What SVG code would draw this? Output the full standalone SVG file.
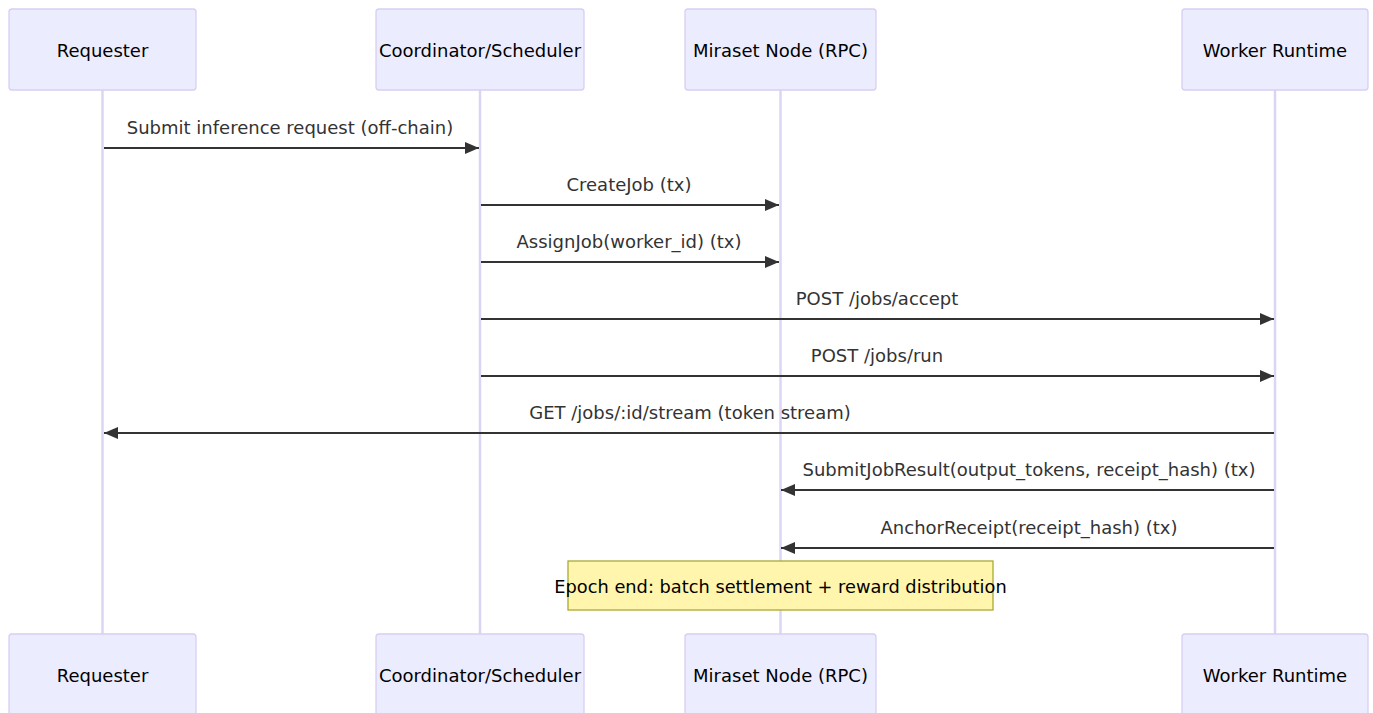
<svg xmlns="http://www.w3.org/2000/svg" width="1373" height="713" viewBox="0 0 1373 713">
<style>
.actor rect{fill:#ECECFF;stroke:#D7CEF3;stroke-width:1.3}
.actor text{font-family:"DejaVu Sans",Verdana,sans-serif;font-size:18px;fill:#000;text-anchor:middle;dominant-baseline:central}
.life{stroke:#DCD4F5;stroke-width:2.5}
.msg line{stroke:#333;stroke-width:2}
.msg text{font-family:"DejaVu Sans",Verdana,sans-serif;font-size:18px;fill:#333;text-anchor:middle}
.note rect{fill:#FFF5AD;stroke:#AAAA33;stroke-width:1.3}
.note text{font-family:"DejaVu Sans",Verdana,sans-serif;font-size:17.8px;fill:#000;text-anchor:middle;dominant-baseline:central}
</style>
<defs>
<marker id="ah" markerUnits="userSpaceOnUse" markerWidth="15" markerHeight="13" refX="14" refY="6" orient="auto">
<path d="M0,0 L14,6 L0,12 z" fill="#333"/>
</marker>
</defs>
<rect width="1373" height="713" fill="#fff"/>
<g id="lifelines">
<line class="life" x1="102.5" y1="90" x2="102.5" y2="634"/>
<line class="life" x1="480" y1="90" x2="480" y2="634"/>
<line class="life" x1="780.5" y1="90" x2="780.5" y2="634"/>
<line class="life" x1="1275" y1="90" x2="1275" y2="634"/>
</g>
<g id="requester" class="actor">
<rect x="9" y="9" width="187" height="81" rx="3"/>
<text x="102.5" y="50.5">Requester</text>
<rect x="9" y="634" width="187" height="81" rx="3"/>
<text x="102.5" y="675.5">Requester</text>
</g>
<g id="coordinator" class="actor">
<rect x="376" y="9" width="208" height="81" rx="3"/>
<text x="480" y="50.5">Coordinator/Scheduler</text>
<rect x="376" y="634" width="208" height="81" rx="3"/>
<text x="480" y="675.5">Coordinator/Scheduler</text>
</g>
<g id="miraset" class="actor">
<rect x="685" y="9" width="191" height="81" rx="3"/>
<text x="780.5" y="50.5">Miraset Node (RPC)</text>
<rect x="685" y="634" width="191" height="81" rx="3"/>
<text x="780.5" y="675.5">Miraset Node (RPC)</text>
</g>
<g id="worker" class="actor">
<rect x="1182" y="9" width="186" height="81" rx="3"/>
<text x="1275" y="50.5">Worker Runtime</text>
<rect x="1182" y="634" width="186" height="81" rx="3"/>
<text x="1275" y="675.5">Worker Runtime</text>
</g>
<g id="connectors" class="msg">
<line x1="104" y1="148" x2="479" y2="148" marker-end="url(#ah)"/>
<text x="290" y="134">Submit inference request (off-chain)</text>
<line x1="481" y1="205" x2="779" y2="205" marker-end="url(#ah)"/>
<text x="629" y="191">CreateJob (tx)</text>
<line x1="481" y1="262" x2="779" y2="262" marker-end="url(#ah)"/>
<text x="629" y="248">AssignJob(worker_id) (tx)</text>
<line x1="481" y1="319" x2="1274" y2="319" marker-end="url(#ah)"/>
<text x="877" y="305">POST /jobs/accept</text>
<line x1="481" y1="376" x2="1274" y2="376" marker-end="url(#ah)"/>
<text x="877" y="362">POST /jobs/run</text>
<line x1="1274" y1="433" x2="104" y2="433" marker-end="url(#ah)"/>
<text x="690" y="419">GET /jobs/:id/stream (token stream)</text>
<line x1="1274" y1="490" x2="781" y2="490" marker-end="url(#ah)"/>
<text x="1029" y="476">SubmitJobResult(output_tokens, receipt_hash) (tx)</text>
<line x1="1274" y1="548" x2="781" y2="548" marker-end="url(#ah)"/>
<text x="1029" y="534">AnchorReceipt(receipt_hash) (tx)</text>
</g>
<g id="note" class="note">
<rect x="568" y="561" width="425" height="49"/>
<text x="780.5" y="586">Epoch end: batch settlement + reward distribution</text>
</g>
</svg>
